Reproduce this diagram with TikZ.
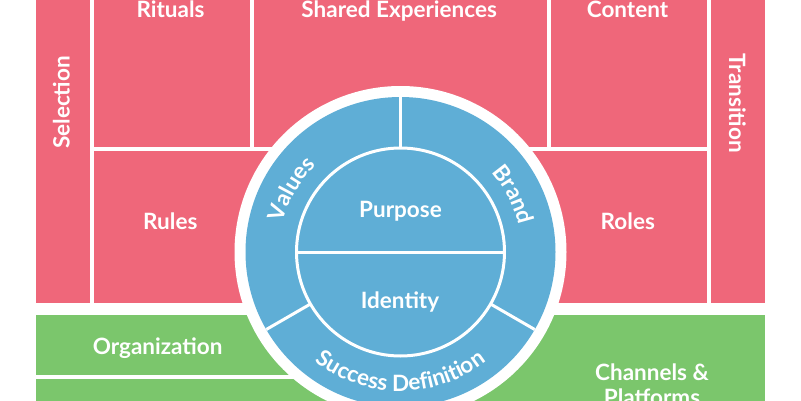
\documentclass[tikz,border=0pt]{standalone}
\usepackage{fontspec}
\setmainfont{Lato}
\usepackage{xcolor}
\usepackage{tikz}
\usetikzlibrary{decorations.text}
\definecolor{pinkbox}{HTML}{EF677A}
\definecolor{greenbox}{HTML}{7BC66C}
\definecolor{bluering}{HTML}{5FAED6}
\newcommand{\ringfont}{\color{white}\fontsize{22.5}{26}\selectfont\bfseries}

\begin{document}
\begin{tikzpicture} [x=1pt, y=1pt,
		label/.style={text=white, font=\fontsize{22.5}{25}\selectfont\bfseries, inner sep=0pt, anchor=base},
		divider/.style={white, line width=3pt}]
			\useasboundingbox (0,0) rectangle (801,400);
			\clip (0,0) rectangle (801,400);
			% pink boxes
			\fill[pinkbox] (36,97) rectangle (90,410);
			\fill[pinkbox] (94,253) rectangle (250,410);
			\fill[pinkbox] (254,253) rectangle (547,410);
			\fill[pinkbox] (551,253) rectangle (707,410);
			\fill[pinkbox] (711,97) rectangle (765,410);
			\fill[pinkbox] (94,97) rectangle (399,249);
			\fill[pinkbox] (402,97) rectangle (707,249);
			% green boxes
			\fill[greenbox] (36,25) rectangle (400,85);
			\fill[greenbox] (36,-10) rectangle (400,21);
			\fill[greenbox] (402,-10) rectangle (765,85);
			% box labels
			\node[label, rotate=90] (selection) at (69.5,297.5) {Selection};
			\node[label, rotate=-90] (transition) at (729,296.7) {Transition};
			\node[label] (rituals) at (170.5,382.7) {Rituals};
			\node[label] (shared) at (399.2,382.7) {Shared Experiences};
			\node[label] (content) at (627.5,382.7) {Content};
			\node[label] (rules) at (170.3,170.7) {Rules};
			\node[label] (roles) at (627.8,170.7) {Roles};
			\node[label] (organization) at (157.7,45.7) {Organization};
			\node[label, align=center] (channels) at (652,-5) {Channels \&\\ Platforms};
			% circle in the middle
			\coordinate (C) at (400.5,148);
			\fill[white] (C) circle (166);
			\fill[bluering] (C) circle (155);
			\draw[divider] (C) circle (104);
			\draw[divider] ([shift={(C)}]180:104) -- ([shift={(C)}]0:104);
			\draw[divider] ([shift={(C)}]90:104) -- ([shift={(C)}]90:155);
			\draw[divider] ([shift={(C)}]210:104) -- ([shift={(C)}]210:155);
			\draw[divider] ([shift={(C)}]330:104) -- ([shift={(C)}]330:155);
			\node[label] (purpose) at (400.5,183) {Purpose};
			\node[label] (identity) at (400,91.7) {Identity};
			% ring labels
			\path[decorate, decoration={text along path, text align=center, text={|\ringfont|Values}}]
				([shift={(C)}]210:121) arc [start angle=210, end angle=90, radius=121];
			\path[decorate, decoration={text along path, text align=center, text={|\ringfont|Brand}}]
				([shift={(C)}]87:121) arc [start angle=87, end angle=-33, radius=121];
			\path[decorate, decoration={text along path, text align=center, text={|\ringfont|Success Definition}}]
				([shift={(C)}]200:139) arc [start angle=200, end angle=340, radius=139];
		\end{tikzpicture}
\end{document}
